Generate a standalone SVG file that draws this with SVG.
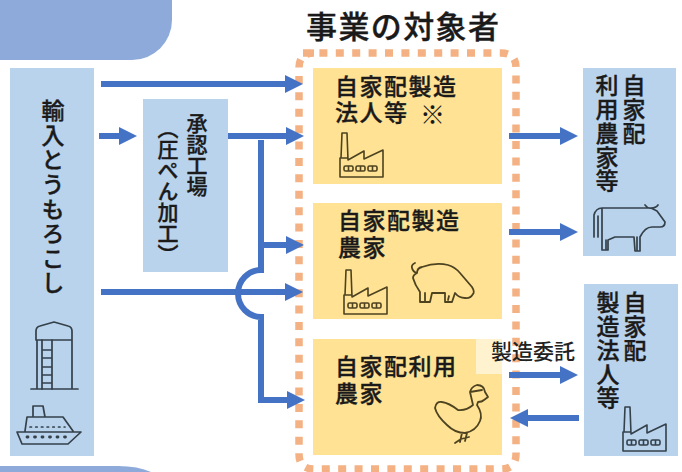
<svg xmlns="http://www.w3.org/2000/svg" width="682" height="472" viewBox="0 0 682 472">
<defs>
<marker id="ah" markerUnits="userSpaceOnUse" markerWidth="18" markerHeight="18" refX="1" refY="9" orient="auto"><path d="M0 0L18 9L0 18Z" fill="#4472c4"/></marker>
<g id="factory" fill="none" stroke-width="1.6" stroke-linejoin="round"><path d="M1 25L2 0H7L8 27L24 18V26L43 17V44H0V25H8"/><rect x="4" y="33" width="9" height="5" rx="1.5"/><rect x="16" y="33" width="9" height="5" rx="1.5"/><rect x="28" y="33" width="9" height="5" rx="1.5"/><path d="M8.500 33v5M20.500 33v5M32.500 33v5"/></g>
</defs>
<style>
.j{font-family:"Noto Sans CJK JP","Noto Sans",sans-serif;fill:#1a1a1a;stroke:#1a1a1a;stroke-width:.35px;font-weight:500}
.y{font-size:23px;letter-spacing:1.5px}
.v{writing-mode:vertical-rl;font-size:21px;letter-spacing:0;font-weight:500}
.r{writing-mode:vertical-rl;font-size:23px;letter-spacing:.8px}
.blue{fill:#b9d3ec}
.yel{fill:#ffe294}
.c{fill:none;stroke:#4472c4;stroke-width:6}
.i{fill:none;stroke:#34404a;stroke-width:1.700;stroke-linejoin:round;stroke-linecap:round}
.iy{fill:none;stroke:#4d4320;stroke-width:1.800;stroke-linejoin:round;stroke-linecap:round}
</style>
<path d="M0 0H172V20A40 40 0 0 1 132 60H0Z" fill="#8eaadb"/>
<path d="M0 472V466H118Q138 466 151 472Z" fill="#8eaadb"/>
<text class="j" x="306" y="38" font-size="31" letter-spacing="1.4">事業の対象者</text>
<g id="importer"><rect class="blue" x="10" y="68" width="84" height="388"/>
<text class="j" x="53" y="99" style="writing-mode:vertical-rl;font-size:23px;letter-spacing:1.6px">輸入とうもろこし</text>
<g class="i"><path d="M36 340V331Q36 327 40 326L54 322L68 326Q72 327 72 331V340ZM37 340V389M72 340V389M31 389H78"/><path d="M42 340V389M52 340V389M42 350H52M42 358H52M42 367H52M42 375H52M42 383H52"/>
<path d="M17 432H81L68 444H22ZM25 431L27 417H63L73 431M33 417V406H43L45 417"/><path d="M30 427H65" stroke-dasharray="1.500 4.200"/><path d="M27 437H67" stroke-width="2.800" stroke-dasharray="1 6.500"/></g></g>
<g id="plant"><rect class="blue" x="143" y="99" width="85" height="173"/>
<text class="j v" x="197" y="113">承認工場</text><text class="j v" x="168" y="118">（圧ぺん加工）</text></g>
<g id="box1"><rect class="yel" x="313" y="68" width="189" height="116"/>
<text class="j y" x="335" y="95">自家配製造</text><text class="j y" x="335" y="121">法人等</text><text class="j" x="420" y="124" font-size="25" style="font-weight:400;stroke:none">※</text>
<use href="#factory" x="340" y="133" stroke="#4d4320"/></g>
<g id="box2"><rect class="yel" x="313" y="203" width="189" height="116"/>
<text class="j y" x="338" y="229">自家配製造</text><text class="j y" x="338" y="256">農家</text>
<use href="#factory" x="344" y="270" stroke="#4d4320"/>
<path class="iy" d="M415 263Q411 265 412 268Q413 272 417 273Q417 268 422 267Q436 262 448 265Q455 267 460 273L472 287Q475 292 473 294Q470 299 465 298Q459 298 455 293L452 302H445V293H432L430 302H420V292Q415 285 413 278Q413 275 417 273"/><path class="iy" d="M425 293V301M449 296L448 300"/></g>
<g id="box3"><rect class="yel" x="313" y="339" width="189" height="116"/>
<text class="j y" x="335" y="375">自家配利用</text><text class="j y" x="335" y="402">農家</text>
<path class="iy" d="M435 408Q436 401 442 402Q449 403 458 410Q466 411 473 405L470 392Q471 387 477 385Q484 385 485 392L488 397L484 400Q482 402 478 402L477 405Q483 414 480 421Q476 431 465 433Q455 433 447 425Q437 416 435 408ZM470 392L482 390M462 433L460 442M467 433L465 441M455 443L461 439L469 437"/></g>
<g id="user"><rect class="blue" x="583" y="68" width="93" height="188"/>
<text class="j r" x="634" y="74">自家配</text><text class="j r" x="607" y="74">利用農家等</text>
<path class="i" d="M645 205Q648 209 651 208Q656 208 658 205M602 208H651L657 211L665 222Q665 227 660 227H652Q645 227 640 237V251H635L634 237H615L608 240V250H602V216Q602 208 602 208ZM594 237V215Q596 208 602 208M598 237V216M637 237V250M606 240V250"/></g>
<g id="maker"><rect class="blue" x="584" y="284" width="94" height="172"/>
<text class="j r" x="635" y="291">自家配</text><text class="j r" x="608" y="291">製造法人等</text>
<use href="#factory" x="623" y="407" stroke="#34404a"/></g>
<rect x="476" y="339" width="26" height="35" fill="#fff3cf"/>
<path d="M303 53H501Q516 53 516 68V454Q516 469 501 469H314Q299 469 299 454V68Q299 53 314 53" fill="none" stroke="#f4b183" stroke-width="7.500" stroke-dasharray="8 8.400"/>
<g id="connectors">
<path class="c" d="M101 84H286" marker-end="url(#ah)"/>
<path class="c" d="M99 136H120" marker-end="url(#ah)"/>
<path class="c" d="M228 136H287" marker-end="url(#ah)"/>
<path class="c" d="M101 292H286" marker-end="url(#ah)"/>
<path class="c" d="M261 140V270A23 23.500 0 0 0 261 317V400H288" marker-end="url(#ah)"/>
<path class="c" d="M261 245H287" marker-end="url(#ah)"/>
<path class="c" d="M509 136H561" marker-end="url(#ah)"/>
<path class="c" d="M509 232H561" marker-end="url(#ah)"/>
<path class="c" d="M509 375H561" marker-end="url(#ah)"/>
<path class="c" d="M579 418H527" marker-end="url(#ah)"/>
</g>
<text class="j" x="491" y="359" font-size="21" style="fill:#222;stroke:none">製造委託</text>
</svg>
